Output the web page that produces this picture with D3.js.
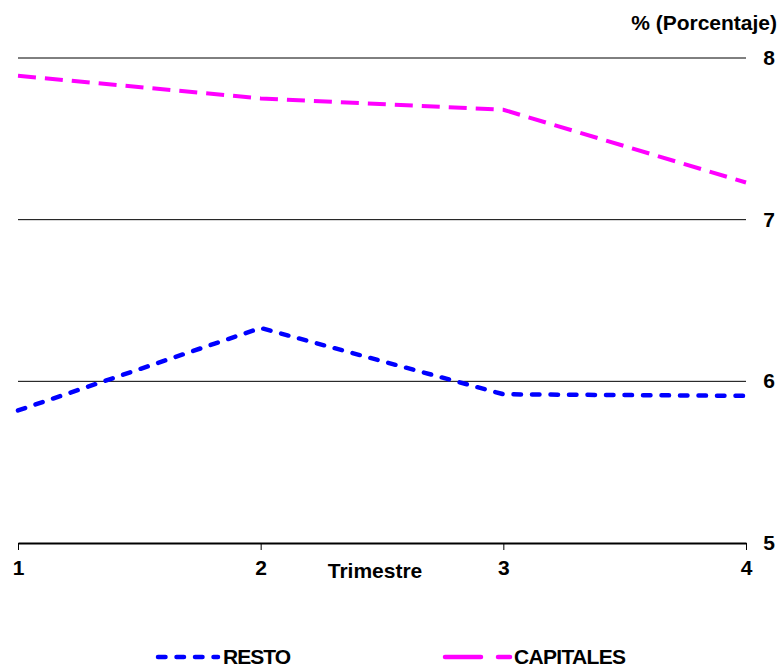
<!DOCTYPE html>
<html><head><meta charset="utf-8">
<script src="https://cdn.jsdelivr.net/npm/d3@7"></script>
<style>body{margin:0;background:#fff}svg text{font-family:"Liberation Sans",Arial,sans-serif;font-weight:bold}</style>
</head><body><svg id="c" width="781" height="668"></svg>
<script>
const quarters = [1, 2, 3, 4];
const resto = [5.82, 6.33, 5.92, 5.91];
const capitales = [7.89, 7.75, 7.68, 7.23];
const yTicks = [5, 6, 7, 8];
const seriesNames = ["RESTO", "CAPITALES"];

const svg = d3.select("#c");
const x = d3.scaleLinear().domain([1, 4]).range([18, 746]);
const y = d3.scaleLinear().domain([5, 8]).range([543, 58]);
const FS = 21;

// gridlines
svg.append("g").selectAll("line").data(yTicks.filter(d => d > 5)).join("line")
  .attr("x1", 18).attr("x2", 746).attr("y1", d => y(d)).attr("y2", d => y(d))
  .attr("stroke", "#000").attr("stroke-width", 1);

// y labels on right
svg.append("g").selectAll("text").data(yTicks).join("text")
  .attr("x", 769).attr("y", d => y(d) + 7).attr("text-anchor", "middle")
  .attr("font-size", FS).text(d => d);

// x axis
const xa = svg.append("g").attr("transform", "translate(0,543)")
  .call(d3.axisBottom(x).tickValues(quarters).tickFormat(d3.format("d")).tickSize(7).tickSizeOuter(0));
xa.select(".domain").attr("stroke-width", 2);
xa.selectAll(".tick line").attr("stroke-width", 1);
xa.selectAll(".tick text").attr("font-size", FS).attr("dy", null).attr("y", 32).attr("fill", "#000")
  .attr("font-family", "Liberation Sans, Arial, sans-serif").attr("font-weight", "bold");

svg.append("text").attr("x", 375).attr("y", 578).attr("text-anchor", "middle").attr("font-size", FS).text("Trimestre");
svg.append("text").attr("x", 777).attr("y", 30).attr("text-anchor", "end").attr("font-size", FS).text("% (Porcentaje)");

const line = d3.line().x((d, i) => x(quarters[i])).y(d => y(d));
svg.append("path").datum(capitales).attr("d", line).attr("fill", "none")
  .attr("stroke", "#ff00ff").attr("stroke-width", 4).attr("stroke-dasharray", "18,9");
svg.append("path").datum(resto).attr("d", line).attr("fill", "none")
  .attr("stroke", "#0000ff").attr("stroke-width", 4.5).attr("stroke-linecap", "round").attr("stroke-dasharray", "7.5,11");

// legend
const lg = svg.append("g");
lg.append("line").attr("x1", 158).attr("x2", 218).attr("y1", 657).attr("y2", 657)
  .attr("stroke", "#0000ff").attr("stroke-width", 4.5).attr("stroke-linecap", "round").attr("stroke-dasharray", "7.5,11");
lg.append("text").attr("x", 223).attr("y", 664).attr("font-size", FS).attr("textLength", 68).text(seriesNames[0]);
lg.append("line").attr("x1", 445).attr("x2", 510).attr("y1", 657).attr("y2", 657)
  .attr("stroke", "#ff00ff").attr("stroke-width", 4.5).attr("stroke-linecap", "round").attr("stroke-dasharray", "36,17");
lg.append("text").attr("x", 514).attr("y", 664).attr("font-size", FS).attr("textLength", 112).text(seriesNames[1]);
</script></body></html>
